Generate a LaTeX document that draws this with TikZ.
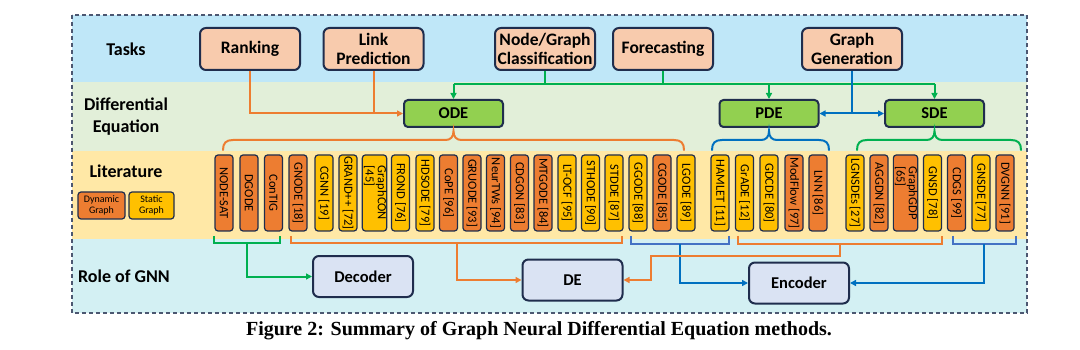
\documentclass[tikz,border=0pt]{standalone}
\usepackage{fontspec}
\setmainfont{Carlito}
\newfontfamily\capfont{Liberation Serif}
\usetikzlibrary{arrows.meta}
\definecolor{darkb}{HTML}{1F2D4D}
\definecolor{taskfill}{HTML}{F8CBAD}
\definecolor{degreen}{HTML}{92D050}
\definecolor{rolefill}{HTML}{DAE3F3}
\definecolor{porange}{HTML}{ED7D31}
\definecolor{pyellow}{HTML}{FFC000}
\definecolor{lorange}{HTML}{ED7D31}
\definecolor{lgreen}{HTML}{00B050}
\definecolor{lblue}{HTML}{0070C0}
\definecolor{lblue2}{HTML}{4472C4}
\definecolor{bandT}{HTML}{BFE7F8}
\definecolor{bandD}{HTML}{E2EFD9}
\definecolor{bandL}{HTML}{FFE8A6}
\definecolor{bandR}{HTML}{D3F0F3}
\newcommand\mybrace[4]{\draw[#4, line width=2pt, line cap=round]
  (#1,150) .. controls (#1,143) and (#1+3,140) .. (#1+10,140) -- (#2-8,140)
  .. controls (#2-3,140) and (#2,137) .. (#2,131)
  .. controls (#2,137) and (#2+3,140) .. (#2+8,140) -- (#3-10,140)
  .. controls (#3-3,140) and (#3,143) .. (#3,150);}
\begin{document}
\begin{tikzpicture}[x=1pt,y=-1pt,
  task/.style={draw=darkb, line width=2pt, fill=taskfill, rounded corners=6pt,
    minimum width=100pt, minimum height=42pt, inner sep=0pt, align=center,
    font=\bfseries\fontsize{17.5}{19}\selectfont},
  deq/.style={draw=darkb, line width=2pt, fill=degreen, rounded corners=4pt,
    minimum width=99pt, minimum height=27pt, inner sep=0pt,
    font=\bfseries\fontsize{16.5}{18}\selectfont},
  role/.style={draw=darkb, line width=2pt, fill=rolefill, rounded corners=6pt,
    minimum width=100pt, minimum height=41pt, inner sep=0pt,
    font=\bfseries\fontsize{16.5}{18}\selectfont},
  paper/.style={draw=darkb, line width=1.2pt, rounded corners=3pt,
    minimum width=18pt, minimum height=76pt, inner sep=0pt,
    font=\fontsize{12.5}{11}\selectfont},
  legbox/.style={draw=darkb, line width=1.2pt, rounded corners=3pt,
    minimum height=27pt, inner sep=0pt, align=center,
    font=\fontsize{10}{11}\selectfont},
  lbl/.style={font=\bfseries\fontsize{18}{22}\selectfont, align=center},
  tip/.style={-{Triangle[length=6pt,width=6pt]}},
  oline/.style={draw=lorange, line width=2pt},
  gline/.style={draw=lgreen, line width=2pt},
  bline/.style={draw=lblue, line width=2pt},
  bline2/.style={draw=lblue2, line width=2pt}]
\useasboundingbox (0,0) rectangle (1080,350);
% bands
\fill[bandT] (72,15) rectangle (1027,82);
\fill[bandD] (72,82) rectangle (1027,151);
\fill[bandL] (72,151) rectangle (1027,239);
\fill[bandR] (72,239) rectangle (1027,313);
\draw[darkb!80, line width=1.3pt, dash pattern=on 4pt off 3pt] (72,15) rectangle (1027,313);
% row labels
\node[lbl] (lt) at (126,49) {Tasks};
\node[lbl] (ld) at (126,117) {Differential\\Equation};
\node[lbl] (ll) at (126,171) {Literature};
\node[lbl] (lr) at (124,276) {Role of GNN};
% tasks
\node[task] (rank) at (250,49) {Ranking};
\node[task] (link) at (373.5,49) {Link\\Prediction};
\node[task] (ncls) at (545,49) {Node/Graph\\Classification};
\node[task] (fore) at (663,49) {Forecasting};
\node[task] (gen) at (852,49) {Graph\\Generation};
% DE
\node[deq] (ode) at (453.5,113.5) {ODE};
\node[deq] (pde) at (769,113.5) {PDE};
\node[deq] (sde) at (934.5,113.5) {SDE};
% roles
\node[role] (dec) at (363,276.5) {Decoder};
\node[role] (de) at (572.5,280) {DE};
\node[role] (enc) at (799,283) {Encoder};
% legend
\node[legbox, fill=porange, minimum width=47pt] (dyn) at (101.5,205.5) {Dynamic\\Graph};
\node[legbox, fill=pyellow, minimum width=45pt] (sta) at (151.5,205.5) {Static\\Graph};
% papers
\foreach \i/\x/\c/\t in {1/224/porange/{NODE-SAT}, 2/249/porange/{DGODE}, 3/273.5/porange/{ConTIG},
  4/298/porange/{GNODE [18]}, 5/324/pyellow/{CGNN [19]}, 6/348/pyellow/{GRAND++ [72]},
  8/400.5/pyellow/{FROND [76]}, 9/425/pyellow/{HDSODE [79]}, 10/448.5/porange/{CoPE [96]},
  11/472/porange/{GRUODE [93]}, 12/495.5/porange/{NeurTWs [94]}, 13/519.5/porange/{CDGON [83]},
  14/543/porange/{MTGODE [84]}, 15/567/pyellow/{LT-OCF [95]}, 16/590.5/pyellow/{STHODE [90]},
  17/614/pyellow/{STDDE [87]}, 18/638/pyellow/{GGODE [88]}, 19/662/porange/{CGODE [85]},
  20/686/pyellow/{LGODE [89]}, 21/720/pyellow/{HAMLET [11]}, 22/744.5/pyellow/{GrADE [12]},
  23/769/pyellow/{GDCDE [80]}, 24/794/porange/{ModFlow [97]}, 25/818/porange/{LNN [86]},
  26/855/pyellow/{LGNSDEs [27]}, 27/879/porange/{AGGDN [82]}, 29/932.5/pyellow/{GNSD [78]},
  30/956.5/porange/{CDGS [99]}, 31/981/pyellow/{GNSDE [77]}, 32/1005/porange/{DVGNN [91]}}
  {\node[paper, fill=\c] (p\i) at (\x,193) {\rotatebox{-90}{\t}};}
\node[paper, fill=pyellow, minimum width=23pt] (p7) at (374.5,193)
  {\rotatebox{-90}{\begin{tabular}{@{}l@{}}GraphCON\\{}[45]\end{tabular}}};
\node[paper, fill=porange, minimum width=23pt] (p28) at (905.5,193)
  {\rotatebox{-90}{\begin{tabular}{@{}l@{}}GraphGDP\\{}[65]\end{tabular}}};
% task -> DE connectors
\draw[oline, tip] (rank.south) |- (ode.west);
\draw[oline] (link.south) -- (link.south |- ode.west);
\coordinate (gl) at (453.5,84);
\draw[gline] (ncls.south) -- (ncls.south |- gl);
\draw[gline] (fore.south) -- (fore.south |- gl);
\draw[gline] (ode.north |- gl) -- (sde.north |- gl);
\draw[gline, tip] (ode.north |- gl) -- (ode.north);
\draw[gline, tip] (pde.north |- gl) -- (pde.north);
\draw[gline, tip] (sde.north |- gl) -- (sde.north);
\draw[bline] (gen.south) -- (gen.south |- pde.east);
\draw[bline, tip] (gen.south |- pde.east) -- (pde.east);
\draw[bline, tip] (gen.south |- sde.west) -- (sde.west);
% braces
\mybrace{223}{453.5}{684}{lorange}
\mybrace{712}{769}{829}{lblue}
\mybrace{857}{934.5}{1021}{lgreen}
% bottom brackets and role connectors
\draw[gline] (214,236) -- (214,243) -- (280,243) -- (280,236);
\draw[gline, tip] (247,243) |- (dec.west);
\draw[oline] (291,236) -- (291,243) -- (622,243) -- (622,236);
\draw[oline, tip] (457,243) |- (de.west);
\draw[bline2] (631,236) -- (631,244) -- (729,244) -- (729,236);
\draw[bline, tip] (680,244) |- (enc.west);
\draw[oline] (738,236) -- (738,244) -- (942,244) -- (942,236);
\draw[oline, tip] (840,244) -- (840,256) -- (651,256) |- (de.east);
\draw[bline2] (953,236) -- (953,244) -- (1016,244) -- (1016,236);
\draw[bline, tip] (984,244) |- (enc.east);
% caption
\node[font=\capfont\bfseries\fontsize{20}{22}\selectfont] (cap) at (539,331)
  {Figure 2: Summary of Graph Neural Differential Equation methods.};
\end{tikzpicture}
\end{document}
